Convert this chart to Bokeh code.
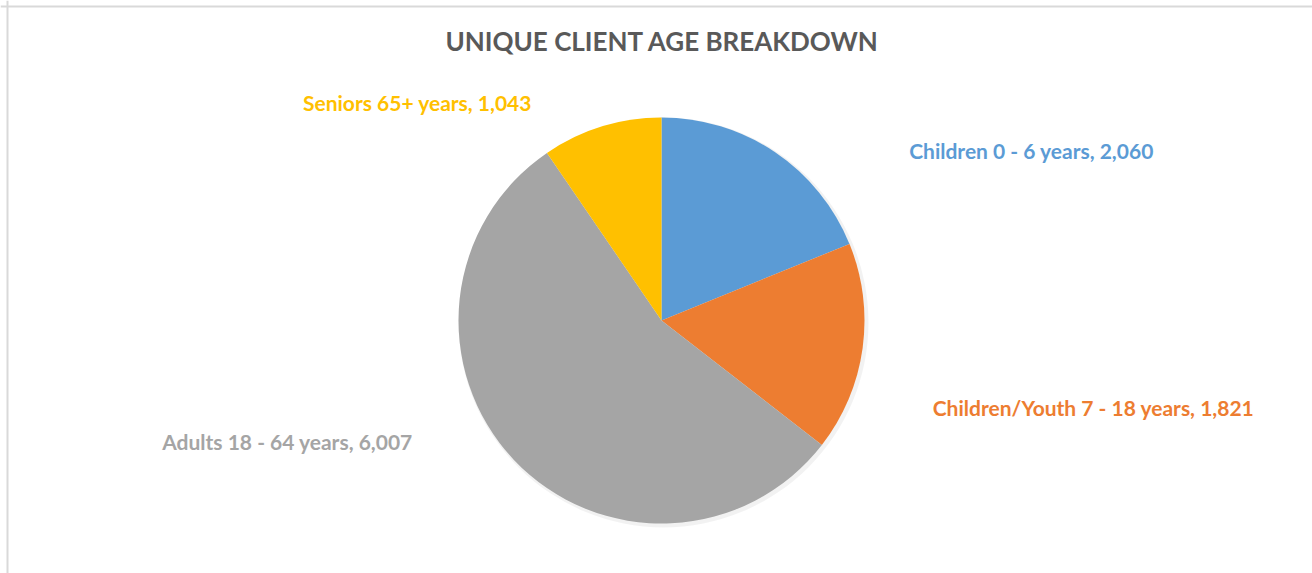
import math
from bokeh.plotting import figure
from bokeh.models import ColumnDataSource, Span, Range1d
from bokeh.core.properties import value
from bokeh.embed import file_html
from bokeh.resources import INLINE

# ---- data ----
categories = ["Children 0 - 6 years", "Children/Youth 7 - 18 years", "Adults 18 - 64 years", "Seniors 65+ years"]
counts = [2060, 1821, 6007, 1043]
colors = ["#5B9BD5", "#ED7D31", "#A5A5A5", "#FFC000"]
title_text = "UNIQUE CLIENT AGE BREAKDOWN"

W, H = 1312, 573
p = figure(width=W, height=H, output_backend="svg", toolbar_location=None,
           x_range=Range1d(0, W), y_range=Range1d(0, H), min_border=0)
p.axis.visible = False
p.grid.visible = False
p.outline_line_color = None
p.background_fill_color = "white"
p.border_fill_color = "white"

# frame lines (top and left, as in reference)
p.add_layout(Span(location=H - 6, dimension="width", line_color="#d9d9d9", line_width=2))
p.add_layout(Span(location=7, dimension="height", line_color="#d9d9d9", line_width=2))

# pie geometry
cx, cy, r = 661, H - 320, 203
total = sum(counts)
starts, ends = [], []
cum = 0.0
for c in counts:
    a0 = math.pi / 2 - 2 * math.pi * cum / total
    cum += c
    a1 = math.pi / 2 - 2 * math.pi * cum / total
    starts.append(a1)
    ends.append(a0)

src = ColumnDataSource(dict(x=[cx] * len(counts), y=[cy] * len(counts),
                            start=starts, end=ends, color=colors))
# soft shadow
p.circle(x=[cx + 2], y=[cy - 2], radius=r + 2, radius_units="screen",
         fill_color="#000000", fill_alpha=0.05, line_color=None)
p.wedge(x="x", y="y", radius=r, radius_units="screen", start_angle="start", end_angle="end",
        direction="anticlock", fill_color="color", line_color=None, source=src)

# labels
label_pos = [(1031, H - 150), (1093, H - 407), (287, H - 441), (417, H - 102)]
labels = [f"{cat}, {cnt:,}" for cat, cnt in zip(categories, counts)]
lsrc = ColumnDataSource(dict(x=[q[0] for q in label_pos], y=[q[1] for q in label_pos],
                             text=labels, color=colors))
p.text(x="x", y="y", text="text", text_color="color", source=lsrc,
       text_font=value("Lato"), text_font_style="bold", text_font_size="21px",
       text_align="center", text_baseline="middle")

p.text(x=[662], y=[H - 40], text=[title_text], text_color="#595959",
       text_font=value("Lato"), text_font_style="bold", text_font_size="26px",
       text_align="center", text_baseline="middle")

open("out.html", "w").write(file_html(p, INLINE))
